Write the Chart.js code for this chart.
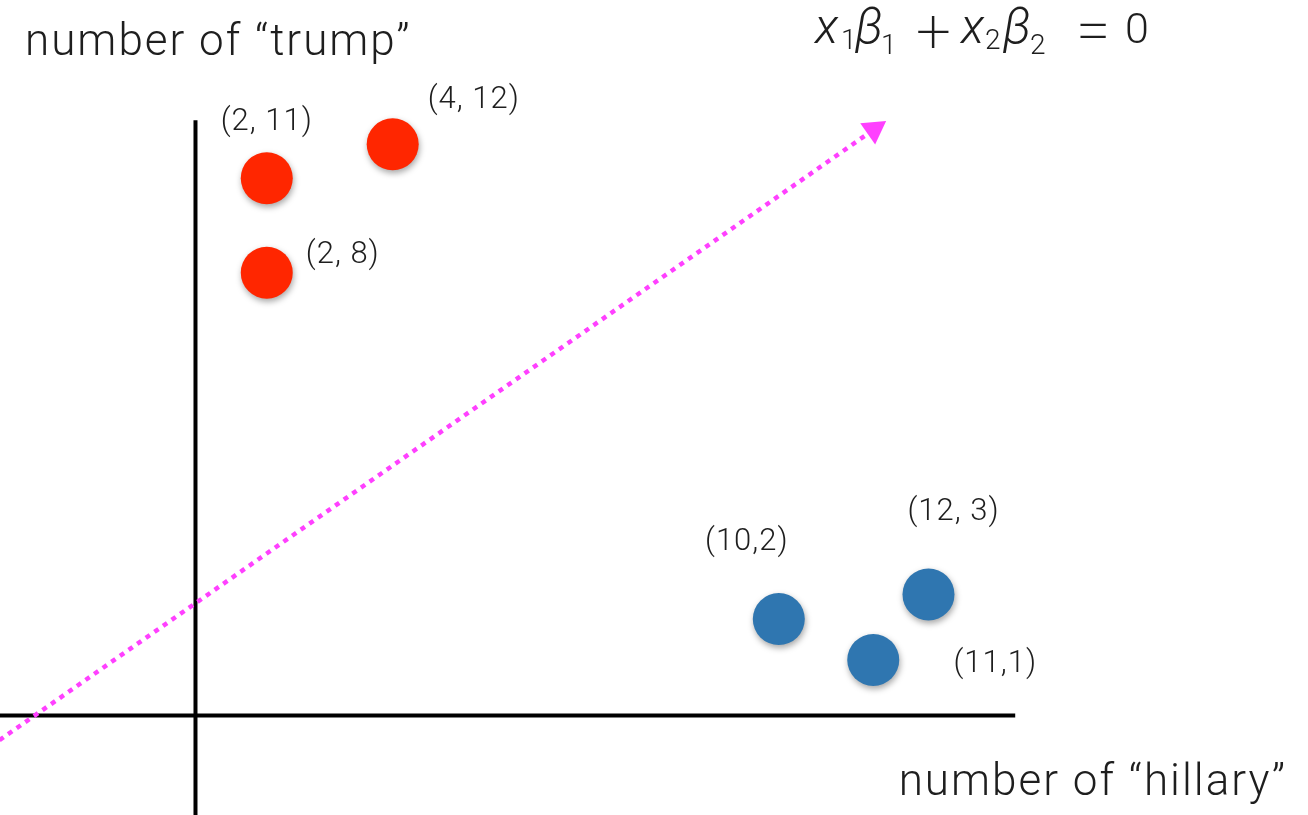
<!DOCTYPE html>
<html>
<head>
<meta charset="utf-8">
<script src="https://cdn.jsdelivr.net/npm/chart.js@4.4.1/dist/chart.umd.min.js"></script>
<style>
  html, body { margin: 0; padding: 0; background: #fff; }
  #wrap { width: 1308px; height: 815px; }
</style>
</head>
<body>
<div id="wrap"><canvas id="chart" width="1308" height="815"></canvas></div>
<script>
// points where they sit in the sketch (origin = where the axes cross)
const trumpX = [1.20, 3.32, 1.20];
const trumpY = [10.92, 11.61, 9.00];
const trumpLabels = ["(2, 11)", "(4, 12)", "(2, 8)"];

const hillaryX = [9.82, 12.34, 11.41];
const hillaryY = [1.96, 2.46, 1.13];
const hillaryLabels = ["(10,2)", "(12, 3)", "(11,1)"];

// dotted arrow (decision line), start -> end
const arrowX = [-3.3, 11.42];
const arrowY = [-0.5, 11.91];

// how far the two axis lines run
const xAxisRange = [-3.3, 13.8];
const yAxisRange = [-2.03, 12.1];

const xTitle = "number of “hillary”";
const yTitle = "number of “trump”";

// formula pieces: text + style (i = italic, sub = subscript, op = operator)
const formula = [["x", "i"], ["1", "sub"], ["β", "i"], ["1", "sub2"], ["+", "op"],
                 ["x", "i"], ["2", "sub"], ["β", "i"], ["2", "sub2"], ["=", "op"], ["0", ""]];

const FONT = 'Roboto, "Liberation Sans", "DejaVu Sans", sans-serif';

function pts(xs, ys) {
    return xs.map((x, i) => ({ x: x, y: ys[i] }));
}

// soft drop shadow under the dots
const shadowPlugin = {
    id: 'dotShadow',
    beforeDatasetDraw(chart, args) {
        if (chart.data.datasets[args.index].shadow) {
            const ctx = chart.ctx;
            ctx.save();
            ctx.shadowColor = 'rgba(0,0,0,0.35)';
            ctx.shadowBlur = 6;
            ctx.shadowOffsetX = 1;
            ctx.shadowOffsetY = 3;
        }
    },
    afterDatasetDraw(chart, args) {
        if (chart.data.datasets[args.index].shadow) chart.ctx.restore();
    }
};

// point labels, axis titles and the formula
const textPlugin = {
    id: 'texts',
    afterDatasetsDraw(chart) {
        const ctx = chart.ctx;
        ctx.save();
        ctx.fillStyle = '#1e1e1e';

        // labels next to the dots
        ctx.font = '300 31px ' + FONT;
        ctx.letterSpacing = '1px';
        ctx.textAlign = 'center';
        ctx.textBaseline = 'alphabetic';
        chart.data.datasets.forEach((ds, i) => {
            if (!ds.pointLabels) return;
            chart.getDatasetMeta(i).data.forEach((pt, j) => {
                const off = ds.labelOffsets[j];
                ctx.fillText(ds.pointLabels[j], pt.x + off[0], pt.y + off[1]);
            });
        });

        // axis titles
        ctx.font = '300 44px ' + FONT;
        ctx.letterSpacing = '2px';
        ctx.textAlign = 'left';
        ctx.fillText(yTitle, 25, 55);
        ctx.textAlign = 'right';
        ctx.fillText(xTitle, 1287, 795);

        // formula, piece by piece (xs = left edge of ink, null = follow previous glyph)
        ctx.letterSpacing = '0px';
        ctx.textAlign = 'left';
        const xs = [813, 843, 855, null, 918, 959, 986, 1003, null, 1080, 1127];
        let prevRight = 0;
        formula.forEach(([t, s], k) => {
            let y = 43;
            if (s === 'i') ctx.font = 'italic 300 49px ' + FONT;
            else if (s === 'sub') { ctx.font = '300 28px ' + FONT; y = 49; }
            else if (s === 'sub2') { ctx.font = '300 28px ' + FONT; y = 54; }
            else if (s === 'op') ctx.font = '200 62px ' + FONT;
            else ctx.font = '300 43px ' + FONT;
            const m = ctx.measureText(t);
            if (s === 'op') {
                const cy = t === '+' ? 31.5 : 30.5;
                y = cy + (m.actualBoundingBoxAscent - m.actualBoundingBoxDescent) / 2;
            }
            const left = xs[k] === null ? prevRight + 2 : xs[k];
            const px = left + m.actualBoundingBoxLeft;
            ctx.fillText(t, px, y);
            prevRight = px + m.actualBoundingBoxRight;
        });
        ctx.restore();
    }
};

const ctx = document.getElementById('chart').getContext('2d');
new Chart(ctx, {
    type: 'scatter',
    data: {
        datasets: [
            {
                label: 'trump',
                data: pts(trumpX, trumpY),
                backgroundColor: '#ff2600',
                borderWidth: 0,
                pointRadius: 26,
                pointHoverRadius: 26,
                shadow: true,
                pointLabels: trumpLabels,
                labelOffsets: [[0, -48], [81, -36], [76, -10]],
                order: 0
            },
            {
                label: 'hillary',
                data: pts(hillaryX, hillaryY),
                backgroundColor: '#2f76b0',
                borderWidth: 0,
                pointRadius: 26,
                pointHoverRadius: 26,
                shadow: true,
                pointLabels: hillaryLabels,
                labelOffsets: [[-32, -69], [25, -74], [122, 12]],
                order: 0
            },
            {
                label: 'boundary',
                type: 'line',
                data: pts(arrowX, arrowY),
                borderColor: '#ff40ff',
                borderWidth: 4.5,
                borderDash: [5, 5.5],
                borderCapStyle: 'butt',
                backgroundColor: '#ff40ff',
                pointStyle: 'triangle',
                pointRadius: [0, 15],
                pointRotation: 55,
                pointBorderWidth: 0,
                order: 1
            },
            {
                label: 'x axis',
                type: 'line',
                data: pts(xAxisRange, [0, 0]),
                borderColor: '#000',
                borderWidth: 4,
                pointRadius: 0,
                order: 2
            },
            {
                label: 'y axis',
                type: 'line',
                data: pts([0, 0], yAxisRange),
                borderColor: '#000',
                borderWidth: 4,
                pointRadius: 0,
                order: 2
            }
        ]
    },
    options: {
        responsive: false,
        animation: false,
        layout: { padding: 0, autoPadding: false },
        plugins: {
            legend: { display: false },
            tooltip: { enabled: false }
        },
        scales: {
            x: { type: 'linear', display: false, min: -3.291, max: 18.729 },
            y: { type: 'linear', display: false, min: -2.022, max: 14.543 }
        }
    },
    plugins: [shadowPlugin, textPlugin]
});
</script>
</body>
</html>
